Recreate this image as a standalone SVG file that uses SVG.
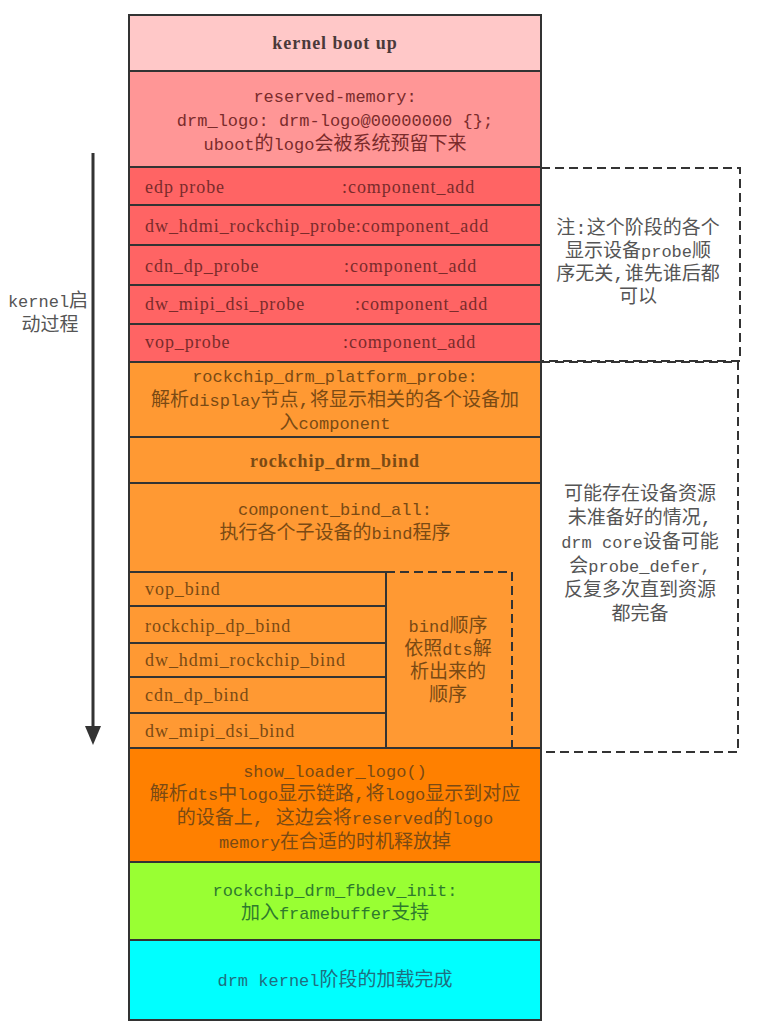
<svg xmlns="http://www.w3.org/2000/svg" width="771" height="1035" viewBox="0 0 771 1035">
<style>
.b{stroke:#333;stroke-width:2}
.d{fill:none;stroke:#333;stroke-width:2;stroke-dasharray:9,5}
.s{font-family:"Liberation Serif","Noto Sans CJK SC",serif;font-size:18px;letter-spacing:0.95px}
.m{font-family:"Liberation Mono","Noto Sans CJK SC",monospace;font-size:17px}
.n{font-family:"Liberation Mono","Noto Sans CJK SC",monospace;font-size:17px;fill:#555;text-anchor:middle}
.k{font-size:19px}
.c{text-anchor:middle}
.r{fill:#7a2b2b}
.o{fill:#7a4a14}
</style>
<rect width="771" height="1035" fill="#fff"/>
<g id="connectors">
<line x1="93" y1="153" x2="93" y2="728" stroke="#333" stroke-width="3"/>
<polygon points="85,726 101,726 93,745" fill="#333"/>
<text class="n" x="48" y="307">kernel<tspan class="k">启</tspan></text>
<text class="n" x="50" y="331"><tspan class="k">动过程</tspan></text>
</g>
<g id="note1">
<rect class="d" x="541" y="168" width="199" height="193"/>
<text class="n" x="638" y="234"><tspan class="k">注:这个阶段的各个</tspan></text>
<text class="n" x="638" y="257"><tspan class="k">显示设备</tspan>probe<tspan class="k">顺</tspan></text>
<text class="n" x="638" y="280"><tspan class="k">序无关,谁先谁后都</tspan></text>
<text class="n" x="638" y="303"><tspan class="k">可以</tspan></text>
</g>
<g id="note2">
<rect class="d" x="541" y="362" width="197" height="390"/>
<text class="n" x="640" y="500"><tspan class="k">可能存在设备资源</tspan></text>
<text class="n" x="640" y="524"><tspan class="k">未准备好的情况,</tspan></text>
<text class="n" x="640" y="548">drm core<tspan class="k">设备可能</tspan></text>
<text class="n" x="640" y="572"><tspan class="k">会</tspan>probe_defer,</text>
<text class="n" x="640" y="596"><tspan class="k">反复多次直到资源</tspan></text>
<text class="n" x="640" y="620"><tspan class="k">都完备</tspan></text>
</g>
<g id="kernel-boot-up">
<rect class="b" x="129" y="15" width="412" height="56" fill="#ffc8c8"/>
<text class="s c" x="335" y="49" font-weight="bold" font-size="17" letter-spacing="0" fill="#4a3a3a">kernel boot up</text>
</g>
<g id="reserved-memory">
<rect class="b" x="129" y="71" width="412" height="96" fill="#ff9696"/>
<text class="m c r" x="335" y="102">reserved-memory:</text>
<text class="m c r" x="335" y="126">drm_logo: drm-logo@00000000 {};</text>
<text class="m c r" x="335" y="150">uboot<tspan class="k">的</tspan>logo<tspan class="k">会被系统预留下来</tspan></text>
</g>
<g id="edp-probe">
<rect class="b" x="129" y="167" width="412" height="38" fill="#ff6464"/>
<text class="s r" x="145" y="193">edp probe</text>
<text class="s r" x="342" y="193">:component_add</text>
</g>
<g id="dw-hdmi-probe">
<rect class="b" x="129" y="205" width="412" height="40" fill="#ff6464"/>
<text class="s r" x="145" y="232">dw_hdmi_rockchip_probe:component_add</text>
</g>
<g id="cdn-dp-probe">
<rect class="b" x="129" y="245" width="412" height="40" fill="#ff6464"/>
<text class="s r" x="145" y="272">cdn_dp_probe</text>
<text class="s r" x="344" y="272">:component_add</text>
</g>
<g id="dw-mipi-dsi-probe">
<rect class="b" x="129" y="285" width="412" height="39" fill="#ff6464"/>
<text class="s r" x="145" y="310">dw_mipi_dsi_probe</text>
<text class="s r" x="355" y="310">:component_add</text>
</g>
<g id="vop-probe">
<rect class="b" x="129" y="324" width="412" height="38" fill="#ff6464"/>
<text class="s r" x="145" y="348">vop_probe</text>
<text class="s r" x="343" y="348">:component_add</text>
</g>
<g id="platform-probe">
<rect class="b" x="129" y="362" width="412" height="75" fill="#ff9933"/>
<text class="m c o" x="335" y="382">rockchip_drm_platform_probe:</text>
<text class="m c o" x="335" y="406"><tspan class="k">解析</tspan>display<tspan class="k">节点,将显示相关的各个设备加</tspan></text>
<text class="m c o" x="335" y="429"><tspan class="k">入</tspan>component</text>
</g>
<g id="drm-bind">
<rect class="b" x="129" y="437" width="412" height="46" fill="#ff9933"/>
<text class="s c o" x="335" y="467" font-weight="bold" letter-spacing="0.5">rockchip_drm_bind</text>
</g>
<g id="component-bind-all">
<rect class="b" x="129" y="483" width="412" height="265" fill="#ff9933"/>
<text class="m c o" x="335" y="515">component_bind_all:</text>
<text class="m c o" x="335" y="539"><tspan class="k">执行各个子设备的</tspan>bind<tspan class="k">程序</tspan></text>
</g>
<g id="vop-bind">
<rect class="b" x="129" y="572" width="257" height="34" fill="#ff9933"/>
<text class="s o" x="145" y="595">vop_bind</text>
</g>
<g id="rockchip-dp-bind">
<rect class="b" x="129" y="606" width="257" height="37" fill="#ff9933"/>
<text class="s o" x="145" y="632">rockchip_dp_bind</text>
</g>
<g id="dw-hdmi-bind">
<rect class="b" x="129" y="643" width="257" height="34" fill="#ff9933"/>
<text class="s o" x="145" y="666">dw_hdmi_rockchip_bind</text>
</g>
<g id="cdn-dp-bind">
<rect class="b" x="129" y="677" width="257" height="36" fill="#ff9933"/>
<text class="s o" x="145" y="701">cdn_dp_bind</text>
</g>
<g id="dw-mipi-dsi-bind">
<rect class="b" x="129" y="713" width="257" height="35" fill="#ff9933"/>
<text class="s o" x="145" y="737">dw_mipi_dsi_bind</text>
</g>
<g id="bind-order">
<line x1="386" y1="572" x2="386" y2="748" stroke="#333" stroke-width="2"/>
<path class="d" d="M386,572 H512 V748"/>
<text class="m c o" x="448" y="632">bind<tspan class="k">顺序</tspan></text>
<text class="m c o" x="448" y="655"><tspan class="k">依照</tspan>dts<tspan class="k">解</tspan></text>
<text class="m c o" x="448" y="678"><tspan class="k">析出来的</tspan></text>
<text class="m c o" x="448" y="701"><tspan class="k">顺序</tspan></text>
</g>
<g id="show-loader-logo">
<rect class="b" x="129" y="748" width="412" height="114" fill="#ff8000"/>
<text class="m c o" x="335" y="777">show_loader_logo()</text>
<text class="m c o" x="335" y="800"><tspan class="k">解析</tspan>dts<tspan class="k">中</tspan>logo<tspan class="k">显示链路,将</tspan>logo<tspan class="k">显示到对应</tspan></text>
<text class="m c o" x="335" y="824"><tspan class="k">的设备上, 这边会将</tspan>reserved<tspan class="k">的</tspan>logo</text>
<text class="m c o" x="335" y="848">memory<tspan class="k">在合适的时机释放掉</tspan></text>
</g>
<g id="fbdev-init">
<rect class="b" x="129" y="862" width="412" height="78" fill="#99ff33"/>
<text class="m c" x="335" y="896" fill="#2e7a2e">rockchip_drm_fbdev_init:</text>
<text class="m c" x="335" y="919" fill="#2e7a2e"><tspan class="k">加入</tspan>framebuffer<tspan class="k">支持</tspan></text>
</g>
<g id="drm-kernel-done">
<rect class="b" x="129" y="940" width="412" height="80" fill="#00ffff"/>
<text class="m c" x="335" y="986" fill="#1f6f7f">drm kernel<tspan class="k">阶段的加载完成</tspan></text>
</g>
</svg>
